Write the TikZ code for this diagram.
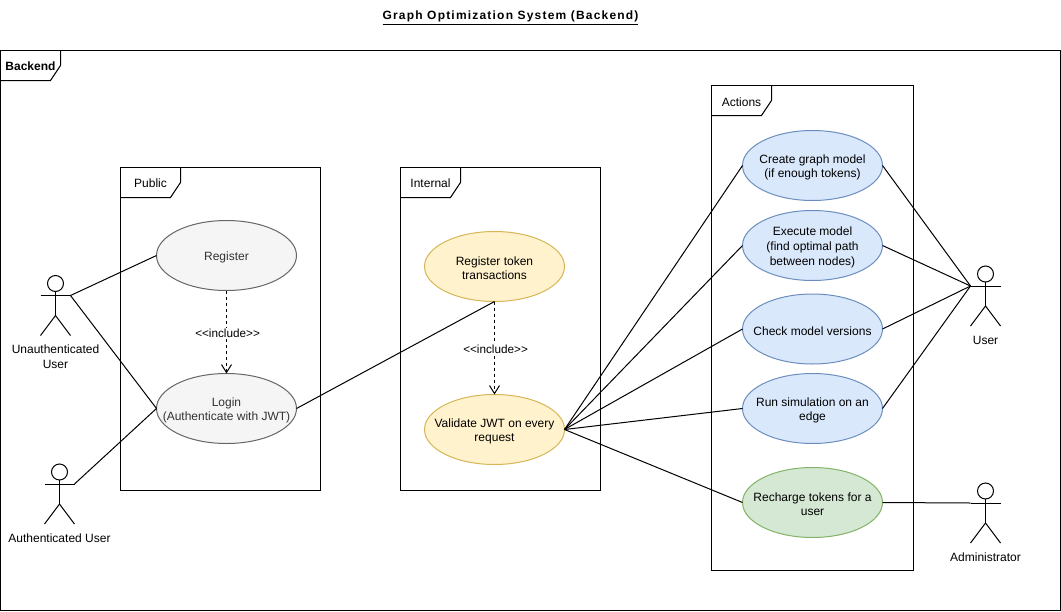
\documentclass[tikz,border=0pt]{standalone}
\usepackage{fontspec}
\setmainfont{Liberation Sans}
\usetikzlibrary{shapes.geometric,arrows.meta}
\tikzset{
  x=0.75pt,y=-0.75pt,
  every node/.style={font=\fontsize{9}{11}\selectfont,align=center,inner sep=0pt,outer sep=0pt},
  ln/.style={line width=0.75pt,draw=black},
  usecase/.style={ellipse,draw,line width=0.75pt,minimum width=105pt,minimum height=52.5pt},
  graycase/.style={usecase,fill=gcfill,draw=gcline},
  yellowcase/.style={usecase,fill=ycfill,draw=ycline},
  bluecase/.style={usecase,fill=bcfill,draw=bcline},
  greencase/.style={usecase,fill=grfill,draw=grline},
  casetext/.style={yshift=-1.3pt},
  incl/.style={ln,dash pattern=on 2.25pt off 2.25pt,-{Straight Barb[length=6pt,width=7.5pt,line width=0.75pt]}},
  incllabel/.style={fill=white,inner sep=1pt,font=\fontsize{8.8}{10}\selectfont,xshift=0.8pt,yshift=-1.1pt},
  assoc/.style={ln},
  framelabel/.style={yshift=-0.6pt},
}
\definecolor{gcfill}{HTML}{F5F5F5}\definecolor{gcline}{HTML}{666666}\definecolor{gctext}{HTML}{333333}
\definecolor{ycfill}{HTML}{FFF2CC}\definecolor{ycline}{HTML}{D6B656}
\definecolor{bcfill}{HTML}{DAE8FC}\definecolor{bcline}{HTML}{6C8EBF}
\definecolor{grfill}{HTML}{D5E8D4}\definecolor{grline}{HTML}{82B366}
% name, x, top, right, bottom
\newcommand{\umlframe}[5]{%
  \draw[ln] (#2,#3) rectangle (#4,#5);
  \draw[ln] (#2+60,#3) -- (#2+60,#3+15) -- (#2+50,#3+30) -- (#2,#3+30);
  \coordinate (#1) at (#2,#3);
}
% name, cx, head y
\newcommand{\umlactor}[3]{%
  \draw[ln] (#2,#3) circle[radius=6pt];
  \draw[ln] (#2,#3+8) -- (#2,#3+32);
  \draw[ln] (#2-15,#3+12) -- (#2+15,#3+12);
  \draw[ln] (#2-15,#3+52) -- (#2,#3+32) -- (#2+15,#3+52);
  \coordinate (#1L) at (#2-15,#3+12);
  \coordinate (#1R) at (#2+15,#3+12);
}
\begin{document}
\begin{tikzpicture}
\useasboundingbox (0,0) rectangle (1061,611);
\fill[white] (0,0) rectangle (1061,611);
\node (title) at (510.5,18) {\bfseries\addfontfeatures{LetterSpace=10}\underline{Graph Optimization System (Backend)}};
\umlframe{fBackend}{0.5}{50.5}{1060.5}{610.5}
\node[framelabel,font=\fontsize{9}{11}\bfseries\selectfont] (lBackend) at (30.5,65.5) {Backend};
\umlframe{fPublic}{120.5}{167.5}{320.5}{490.5}
\node[framelabel] (lPublic) at (150.5,182.5) {Public};
\umlframe{fInternal}{400.5}{167.5}{600.5}{490.5}
\node[framelabel] (lInternal) at (430.5,182.5) {Internal};
\umlframe{fActions}{711.5}{85.5}{913.5}{570.5}
\node[framelabel] (lActions) at (741.5,101.5) {Actions};

\node[graycase] (register) at (226.5,255.5) {};
\node[casetext,text=gctext] (tregister) at (register) {Register};
\node[graycase] (login) at (226.5,408.5) {};
\node[casetext,text=gctext] (tlogin) at (login) {Login\\(Authenticate with JWT)};
\node[yellowcase] (token) at (494.5,266.5) {};
\node[casetext] (ttoken) at (token) {Register token\\transactions};
\node[yellowcase] (validate) at (494.5,429.5) {};
\node[casetext] (tvalidate) at (validate) {Validate JWT on every\\request};
\node[bluecase] (create) at (812.5,165.5) {};
\node[casetext] (tcreate) at (create) {Create graph model\\(if enough tokens)};
\node[bluecase] (execute) at (812.5,245.5) {};
\node[casetext] (texecute) at (execute) {Execute model\\(find optimal path\\between nodes)};
\node[bluecase] (check) at (812.5,329) {};
\node[casetext] (tcheck) at (check) {Check model versions};
\node[bluecase] (run) at (812.5,408.5) {};
\node[casetext] (trun) at (run) {Run simulation on an\\edge};
\node[greencase] (recharge) at (812.5,502.5) {};
\node[casetext] (trecharge) at (recharge) {Recharge tokens for a\\user};

\umlactor{unauth}{55.5}{283.5}
\node (lunauth) at (55.5,356.5) {Unauthenticated\\User};
\umlactor{auth}{59.5}{472}
\node (lauth) at (59.5,538.5) {Authenticated User};
\umlactor{user}{985.5}{274}
\node (luser) at (985.5,340.5) {User};
\umlactor{admin}{985.5}{491}
\node (ladmin) at (985.5,557.5) {Administrator};

\draw[assoc] (unauthR) -- (register.west);
\draw[assoc] (unauthR) -- (login.west);
\draw[assoc] (authR) -- (login.west);
\draw[assoc] (login.east) -- (token.south);
\foreach \t in {create,execute,check,run,recharge}
  \draw[assoc] (validate.east) -- (\t.west);
\foreach \t in {create,execute,check,run}
  \draw[assoc] (\t.east) -- (userL);
\draw[assoc] (recharge.east) -- (adminL);
\draw[incl] (register.south) -- (login.north) node[midway,incllabel] (inclA) {<{}<include>{}>};
\draw[incl] (token.south) -- (validate.north) node[midway,incllabel] (inclB) {<{}<include>{}>};
\end{tikzpicture}
\end{document}
